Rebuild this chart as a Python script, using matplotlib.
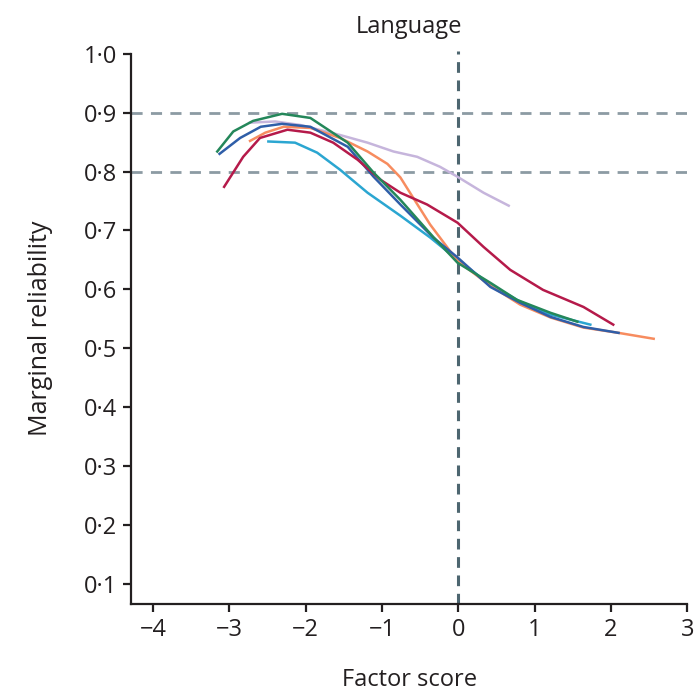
import matplotlib.pyplot as plt
from matplotlib.ticker import FuncFormatter

plt.rcParams['font.family'] = ['Open Sans', 'DejaVu Sans']

# marginal reliability curves per cohort (factor score, reliability)
green_x = [-3.16, -2.95, -2.69, -2.31, -1.94, -1.45, -1.11, -0.76, -0.33, -0.01, 0.42, 0.77, 1.21, 1.56]
green_y = [0.834, 0.868, 0.886, 0.898, 0.891, 0.849, 0.798, 0.752, 0.689, 0.645, 0.611, 0.582, 0.560, 0.545]

blue_x = [-3.13, -2.86, -2.59, -2.31, -1.94, -1.45, -1.11, -0.76, -0.33, -0.01, 0.42, 0.81, 1.21, 1.64, 2.10]
blue_y = [0.830, 0.857, 0.876, 0.881, 0.876, 0.842, 0.791, 0.744, 0.688, 0.654, 0.604, 0.577, 0.553, 0.536, 0.526]

orange_x = [-2.73, -2.53, -2.29, -1.94, -1.55, -1.19, -0.93, -0.76, -0.59, -0.37, -0.01, 0.42, 0.81, 1.21, 1.64, 2.10, 2.56]
orange_y = [0.852, 0.866, 0.876, 0.874, 0.857, 0.834, 0.813, 0.790, 0.755, 0.710, 0.648, 0.606, 0.574, 0.552, 0.535, 0.526, 0.516]

red_x = [-3.07, -2.82, -2.60, -2.24, -1.94, -1.64, -1.32, -1.02, -0.76, -0.41, -0.01, 0.33, 0.68, 1.11, 1.64, 2.03]
red_y = [0.774, 0.825, 0.857, 0.871, 0.866, 0.849, 0.820, 0.786, 0.764, 0.744, 0.713, 0.672, 0.633, 0.599, 0.570, 0.540]

cyan_x = [-2.49, -2.14, -1.85, -1.55, -1.19, -0.76, -0.37, -0.01, 0.42, 0.81, 1.21, 1.73]
cyan_y = [0.851, 0.849, 0.832, 0.803, 0.764, 0.725, 0.688, 0.650, 0.608, 0.579, 0.557, 0.540]

lilac_x = [-2.73, -2.40, -2.07, -1.55, -1.19, -0.85, -0.54, -0.24, -0.01, 0.33, 0.66]
lilac_y = [0.883, 0.885, 0.879, 0.862, 0.849, 0.834, 0.825, 0.808, 0.791, 0.764, 0.742]

xticks = [-4, -3, -2, -1, 0, 1, 2, 3]
yticks = [0.1, 0.2, 0.3, 0.4, 0.5, 0.6, 0.7, 0.8, 0.9, 1.0]

fig = plt.figure(figsize=(6.97, 6.98), dpi=100)
ax = fig.add_axes([0.188, 0.135, 0.798, 0.788])

# reference lines
ax.axhline(0.9, color='#8c9ba3', lw=2, dashes=(4, 3))
ax.axhline(0.8, color='#8c9ba3', lw=2, dashes=(4, 3))
ax.plot([0, 0], [0.066, 1.005], color='#4d6670', lw=2.2, dashes=(3.5, 2.5), clip_on=False)

ax.plot(lilac_x, lilac_y, color='#c6b5dc', lw=1.8)
ax.plot(cyan_x, cyan_y, color='#2ba6d1', lw=1.8)
ax.plot(orange_x, orange_y, color='#f78c5f', lw=1.8)
ax.plot(blue_x, blue_y, color='#2f5ea8', lw=1.8)
ax.plot(red_x, red_y, color='#b51a4a', lw=1.8)
ax.plot(green_x, green_y, color='#24875a', lw=1.8)

ax.set_xlim(-4.29, 3)
ax.set_ylim(0.066, 1.0)
ax.set_xticks(xticks)
ax.set_yticks(yticks)
ax.xaxis.set_major_formatter(FuncFormatter(lambda v, p: f'{int(v)}'.replace('-', '\u2212')))
ax.yaxis.set_major_formatter(FuncFormatter(lambda v, p: f'{v:.1f}'.replace('.', '\u00b7')))

for s in ['top', 'right']:
    ax.spines[s].set_visible(False)
for s in ['left', 'bottom']:
    ax.spines[s].set_linewidth(1.6)
    ax.spines[s].set_color('#231f20')
ax.tick_params(direction='out', length=6, width=1.6, color='#231f20',
               labelsize=17, labelcolor='#231f20', pad=4)

ax.set_xlabel('Factor score', fontsize=17, color='#231f20', labelpad=19)
ax.set_ylabel('Marginal reliability', fontsize=18, color='#231f20', labelpad=22)
ax.set_title('Language', fontsize=17, color='#231f20', pad=15)

fig.savefig('out.png', dpi=100)
